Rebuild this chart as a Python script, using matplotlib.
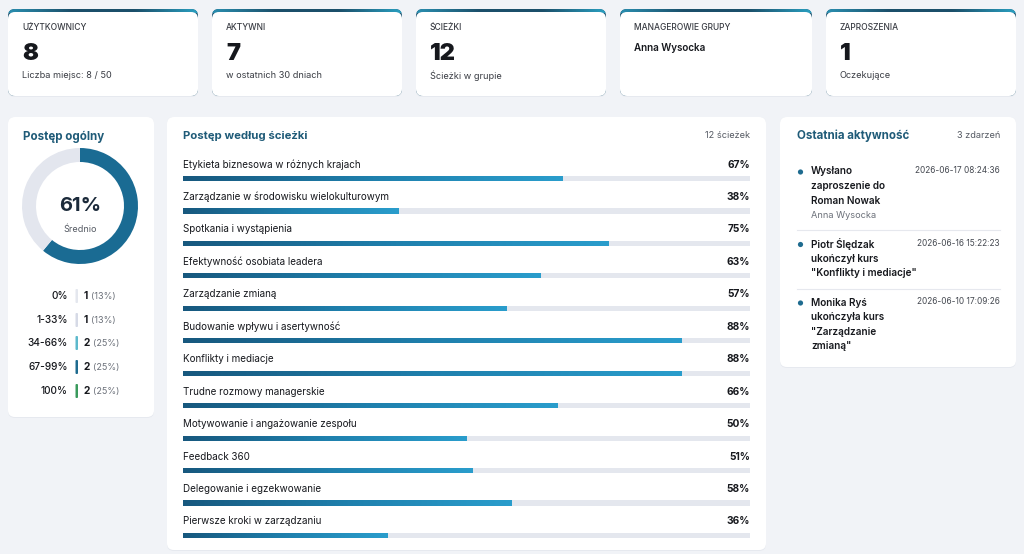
import numpy as np
import matplotlib
matplotlib.use("Agg")
import matplotlib.pyplot as plt
from matplotlib.patches import FancyBboxPatch, Circle
from matplotlib.colors import LinearSegmentedColormap

plt.rcParams['font.family'] = ['Inter', 'DejaVu Sans']

# ---------------- data ----------------
card_titles = ["UŻYTKOWNICY", "AKTYWNI", "ŚCIEŻKI", "MANAGEROWIE GRUPY", "ZAPROSZENIA"]
card_values = ["8", "7", "12", "", "1"]
card_subs = ["Liczba miejsc: 8 / 50", "w ostatnich 30 dniach", "Ścieżki w grupie", "", "Oczekujące"]
card_names = ["", "", "", "Anna Wysocka", ""]

overall_pct = 61
bucket_labels = ["0%", "1-33%", "34-66%", "67-99%", "100%"]
bucket_counts = [1, 1, 2, 2, 2]
bucket_shares = [13, 13, 25, 25, 25]
bucket_colors = ["#e4e7ee", "#d6dae6", "#5db9cc", "#1e6b8f", "#3a9a5c"]

path_names = [
    "Etykieta biznesowa w różnych krajach",
    "Zarządzanie w środowisku wielokulturowym",
    "Spotkania i wystąpienia",
    "Efektywność osobiata leadera",
    "Zarządzanie zmianą",
    "Budowanie wpływu i asertywność",
    "Konflikty i mediacje",
    "Trudne rozmowy managerskie",
    "Motywowanie i angażowanie zespołu",
    "Feedback 360",
    "Delegowanie i egzekwowanie",
    "Pierwsze kroki w zarządzaniu",
]
path_values = [67, 38, 75, 63, 57, 88, 88, 66, 50, 51, 58, 36]

events = [
    (["Wysłano", "zaproszenie do", "Roman Nowak"], "Anna Wysocka", "2026-06-17 08:24:36"),
    (["Piotr Ślędzak", "ukończył kurs", "\"Konflikty i mediacje\""], None, "2026-06-16 15:22:23"),
    (["Monika Ryś", "ukończyła kurs", "\"Zarządzanie", "zmianą\""], None, "2026-06-10 17:09:26"),
]

# ---------------- style ----------------
BG = "#f1f3f7"
TITLE_C = "#1f5b78"
DARK = "#16181d"
GRAY = "#555a63"
TRACK = "#e4e7ee"
grad_cmap = LinearSegmentedColormap.from_list("g", ["#17587e", "#1f80ad", "#2a9dcc"])
accent_cmap = LinearSegmentedColormap.from_list("a", ["#2a8fb0", "#1b4f6a", "#1b4f6a", "#2a9fc0"])

W, H = 1024, 554
fig = plt.figure(figsize=(W / 100, H / 100), dpi=100)
fig.patch.set_facecolor(BG)
ax = fig.add_axes([0, 0, 1, 1])
ax.set_xlim(0, W)
ax.set_ylim(H, 0)
ax.axis("off")


def card(x, y, w, h, accent=False):
    ax.add_patch(FancyBboxPatch((x, y + 1), w, h, boxstyle="round,pad=0,rounding_size=7",
                                fc="#e6e9ef", ec="none", zorder=1))
    if accent:
        p = FancyBboxPatch((x, y - 2), w, h + 2, boxstyle="round,pad=0,rounding_size=7",
                           fc="#1d5572", ec="none", zorder=1.5)
        ax.add_patch(p)
        im = ax.imshow(np.linspace(0, 1, 256)[None, :], cmap=accent_cmap, aspect="auto",
                       extent=(x, x + w, y + 2, y - 2), zorder=1.6)
        im.set_clip_path(p)
    ax.add_patch(FancyBboxPatch((x, y + 1), w, h - 1, boxstyle="round,pad=0,rounding_size=7",
                                fc="white", ec="none", zorder=2))


# ---- top cards ----
card_x = [8, 212, 416, 620, 826]
card_w = [190, 190, 190, 192, 190]
for i in range(5):
    x = card_x[i]
    card(x, 11, card_w[i], 85, accent=True)
    tx = x + 14
    ax.text(tx, 28, card_titles[i], fontsize=6.1, color="#3a3d44", va="center", ha="left",
            fontweight="medium", zorder=5)
    if card_values[i]:
        ax.text(tx, 54, card_values[i], fontsize=17, color=DARK, va="center", ha="left",
                fontweight="black", zorder=5)
    if card_subs[i]:
        ax.text(tx, 76, card_subs[i], fontsize=6.6, color="#3a3d44", va="center", ha="left", zorder=5)
    if card_names[i]:
        ax.text(tx, 48, card_names[i], fontsize=7.1, color=DARK, va="center", ha="left",
                fontweight="semibold", zorder=5)

# ---- panels ----
card(8, 116, 146, 301)
card(167, 116, 599, 434)
card(780, 116, 236, 251)

# ---- left panel: overall progress ----
ax.text(23, 137, "Postęp ogólny", fontsize=8.3, color=TITLE_C, fontweight="bold",
        va="center", ha="left", zorder=5)
R = 58
cx, cy = 80, 206
dax = fig.add_axes([(cx - R) / W, 1 - (cy + R) / H, 2 * R / W, 2 * R / H])
dax.pie([overall_pct, 100 - overall_pct], startangle=90, counterclock=False,
        colors=["#1a6b93", "#e3e6ee"], radius=1.0,
        wedgeprops=dict(width=14 / R, edgecolor="none"))
dax.set_xlim(-1, 1)
dax.set_ylim(-1, 1)
dax.set_aspect("auto")
dax.axis("off")
ax.text(cx, 206, f"{overall_pct}%", fontsize=14.5, color="#1b2a3a", fontweight="bold",
        va="center", ha="center", zorder=5)
ax.text(cx, 230, "Średnio", fontsize=6.5, color=GRAY, va="center", ha="center", zorder=5)

leg_y = [296, 320, 343, 367, 391]
for i, lab in enumerate(bucket_labels):
    yy = leg_y[i]
    ax.text(68, yy, lab, fontsize=7.3, color=DARK, ha="right", va="center",
            fontweight="medium", zorder=5)
    ax.add_patch(FancyBboxPatch((75.5, yy - 7), 2.5, 14, boxstyle="round,pad=0,rounding_size=1",
                                fc=bucket_colors[i], ec="none", zorder=5))
    ax.text(84, yy, str(bucket_counts[i]), fontsize=7.3, color=DARK, ha="left", va="center",
            fontweight="bold", zorder=5)
    ax.text(91 if bucket_counts[i] == 1 else 93.5, yy + 0.5, f"({bucket_shares[i]}%)",
            fontsize=6.5, color="#6b7079", ha="left", va="center", zorder=5)

# ---- middle panel: progress per path ----
ax.text(183, 136, "Postęp według ścieżki", fontsize=8.2, color=TITLE_C, fontweight="bold",
        va="center", ha="left", zorder=5)
ax.text(750, 136, f"{len(path_names)} ścieżek", fontsize=6.6, color=GRAY,
        va="center", ha="right", zorder=5)

x0, x1 = 183, 750
bax = fig.add_axes([x0 / W, 0, (x1 - x0) / W, 1])
bax.set_xlim(0, 100)
bax.set_ylim(H, 0)
bax.axis("off")
bax.patch.set_alpha(0)
row_y0, row_dy, bar_h = 178.5, 32.45, 5.2
for i, (name, v) in enumerate(zip(path_names, path_values)):
    yb = row_y0 + i * row_dy
    bax.barh(yb, 100, height=bar_h, color=TRACK, zorder=2)
    bars = bax.barh(yb, v, height=bar_h, color="#1f7fae", zorder=3)
    im = bax.imshow(np.linspace(0, 1, 256)[None, :], cmap=grad_cmap, aspect="auto",
                    extent=(0, v, yb + bar_h / 2, yb - bar_h / 2), zorder=4)
    im.set_clip_path(bars[0])
    ax.text(183, yb - 14, name, fontsize=7.1, color=DARK, ha="left", va="center", zorder=5)
    ax.text(750, yb - 14, f"{v}%", fontsize=7.3, color=DARK, ha="right", va="center",
            fontweight="bold", zorder=5)
bax.set_xlim(0, 100)
bax.set_ylim(H, 0)

# ---- right panel: recent activity ----
ax.text(797, 136, "Ostatnia aktywność", fontsize=8.3, color=TITLE_C, fontweight="bold",
        va="center", ha="left", zorder=5)
ax.text(1000, 136, f"{len(events)} zdarzeń", fontsize=6.6, color=GRAY,
        va="center", ha="right", zorder=5)
ev_y = [171.5, 244, 302.5]
sep_y = [230, 288.5]
for k, (lines, who, date) in enumerate(events):
    y = ev_y[k]
    ax.add_patch(Circle((800.5, y + 0.5), 2.6, fc="#1e6b8f", ec="none", zorder=5))
    for j, ln in enumerate(lines):
        ax.text(811, y + j * 14.6, ln, fontsize=7.2, color=DARK, fontweight="semibold",
                ha="left", va="center", zorder=5)
    if who:
        ax.text(811, y + len(lines) * 14.6, who, fontsize=6.6, color="#6b7079",
                ha="left", va="center", zorder=5)
    ax.text(1000, y - 1, date, fontsize=6.0, color="#444850", ha="right", va="center", zorder=5)
for sy in sep_y:
    ax.plot([797, 1000], [sy, sy], color="#e6e8ee", lw=0.8, zorder=5)

fig.savefig("out.png", dpi=100, facecolor=BG)
